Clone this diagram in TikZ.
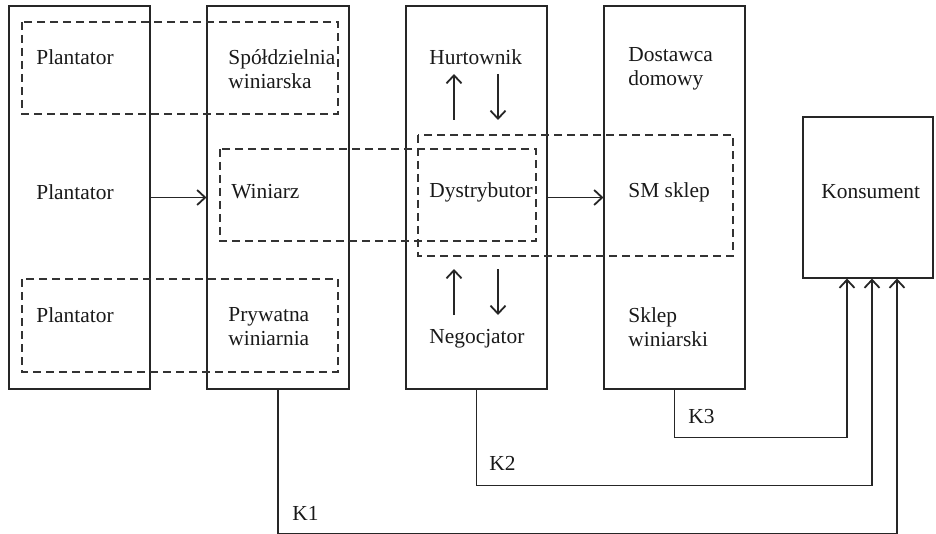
\documentclass[tikz,border=0pt]{standalone}
\usepackage{fontspec}
\setmainfont{Liberation Serif}
\usetikzlibrary{arrows.meta}

\tikzset{
  box/.style={draw=black!85, line width=0.55pt, minimum height=191.5pt, inner sep=0pt},
  dashbox/.style={draw=black!80, line width=0.55pt, dash pattern=on 4pt off 2.5pt},
  lbl/.style={anchor=west, align=left, inner sep=0pt, text=black!90, font=\fontsize{10.7}{12}\selectfont},
  conn/.style={draw=black!85, line width=0.55pt, -{Straight Barb[length=4pt,width=7.5pt,line width=0.9pt]}},
  wire/.style={line width=0.55pt}
}

\begin{document}
\begin{tikzpicture}[x=0.5pt,y=-0.5pt]
\useasboundingbox (0,0) rectangle (936,534);
%columns
\node[box, minimum width=70.5pt] (plantatorzy) at (79.5,197.5) {};
\node[box, minimum width=71pt] (winiarze) at (278,197.5) {};
\node[box, minimum width=70.5pt] (dystrybucja) at (476.5,197.5) {};
\node[box, minimum width=70.5pt] (detal) at (674.5,197.5) {};
\node[box, minimum width=65pt, minimum height=80.5pt] (konsument) at (868,197.5) {};

%dashed groups
\draw[dashbox] (22,22) rectangle (338,114);
\draw[dashbox] (22,279) rectangle (338,372);
\draw[dashbox] (220,149) rectangle (536,241);
\draw[dashbox] (418,135) rectangle (733,256);

%labels
\node[lbl] (plant1) at (36,57) {Plantator};
\node[lbl] (plant2) at (36,192) {Plantator};
\node[lbl] (plant3) at (36,315) {Plantator};
\node[lbl] (spoldz) at (228,69) {Spółdzielnia\\winiarska};
\node[lbl] (winiarz) at (231,192) {Winiarz};
\node[lbl] (prywatna) at (228,327) {Prywatna\\winiarnia};
\node[lbl] (hurt) at (429,57) {Hurtownik};
\node[lbl] (dystr) at (429,192) {Dystrybutor};
\node[lbl] (negoc) at (429,339) {Negocjator};
\node[lbl] (dostawca) at (628,69) {Dostawca\\domowy};
\node[lbl] (smsklep) at (628,192) {SM sklep};
\node[lbl] (sklep) at (628,327) {Sklep\\winiarski};
\node[lbl] (kons) at (821,192) {Konsument};

%flows
\draw[conn] (plantatorzy.east) -- (winiarze.west);
\draw[conn] (dystrybucja.east) -- (detal.west);
\coordinate (up1) at (454,120); \coordinate (up2) at (454,74);
\coordinate (dn1) at (498,74); \coordinate (dn2) at (498,120);
\draw[conn] (up1) -- (up2);
\draw[conn] (dn1) -- (dn2);
\coordinate (up3) at (454,315); \coordinate (up4) at (454,269);
\coordinate (dn3) at (498,269); \coordinate (dn4) at (498,315);
\draw[conn] (up3) -- (up4);
\draw[conn] (dn3) -- (dn4);

%channels
\draw[conn] (detal.south) -- ++(0,48) -| ([xshift=-10.5pt]konsument.south);
\draw[conn] (dystrybucja.south) -- ++(0,96) -| ([xshift=2pt]konsument.south);
\draw[conn] (winiarze.south) -- ++(0,143.5) -| ([xshift=14.5pt]konsument.south);
\node[lbl] (k3) at (688,417) {K3};
\node[lbl] (k2) at (489,463) {K2};
\node[lbl] (k1) at (292,513) {K1};
\end{tikzpicture}
\end{document}
